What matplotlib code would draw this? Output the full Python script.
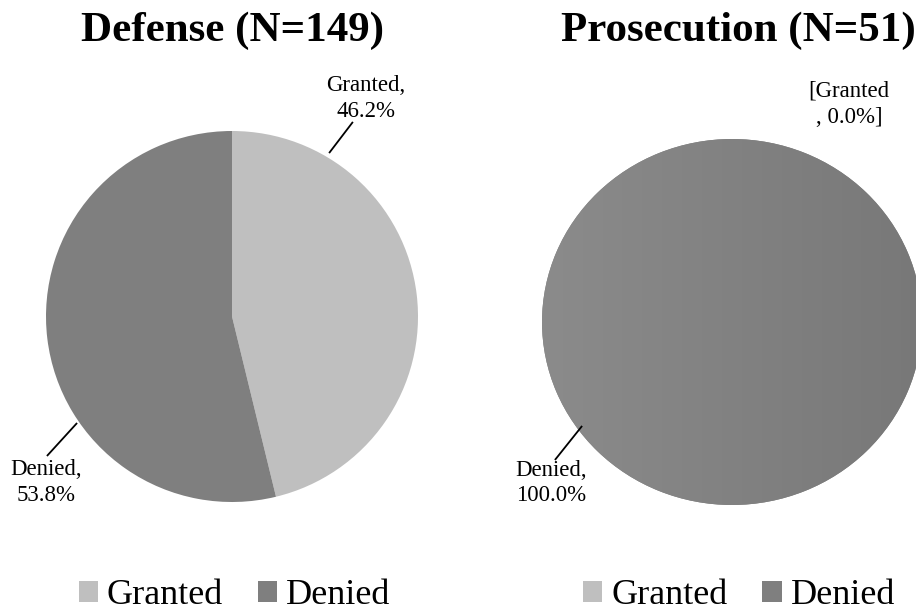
import matplotlib
matplotlib.use("Agg")
import matplotlib.pyplot as plt
import numpy as np
from matplotlib.patches import Patch
from matplotlib.colors import LinearSegmentedColormap

plt.rcParams['font.family'] = ['Liberation Serif', 'DejaVu Serif']

# ---- data ----
categories = ["Granted", "Denied"]
defense_pct = [46.2, 53.8]
prosecution_pct = [0.0, 100.0]
titles = ["Defense (N=149)", "Prosecution (N=51)"]
colors = ["#BFBFBF", "#7F7F7F"]

W, H = 916, 612
fig = plt.figure(figsize=(W / 100, H / 100), dpi=100)


def px_axes(x0, x1, ytop, ybot):
    return fig.add_axes([x0 / W, (H - ybot) / H, (x1 - x0) / W, (ybot - ytop) / H])


def label_text(cat, pct):
    if pct == 0:
        return f"[{cat}\n, {pct:.1f}%]"
    return f"{cat},\n{pct:.1f}%"


def draw_pie(ax, values, label_pos, line_pos, gradient=False):
    wedges, _ = ax.pie(values, colors=colors, startangle=90, counterclock=False,
                       radius=1, center=(0, 0), wedgeprops=dict(linewidth=0))
    ax.set_xlim(-1, 1)
    ax.set_ylim(-1, 1)
    ax.set_aspect('auto')
    ax.axis('off')
    if gradient:
        cmap = LinearSegmentedColormap.from_list("g", ["#8B8B8B", "#787878"])
        grad = np.linspace(0, 1, 256).reshape(1, -1)
        grad = np.repeat(grad, 2, axis=0)
        for w, v in zip(wedges, values):
            if v > 0 and w.get_facecolor()[0] < 0.6:
                im = ax.imshow(grad, extent=(-1, 1, -1, 1), cmap=cmap, aspect='auto',
                               interpolation='bilinear', zorder=w.get_zorder() + 0.1)
                im.set_clip_path(w)
    for cat, v, lp, ln in zip(categories, values, label_pos, line_pos):
        ax.text(lp[0], lp[1], label_text(cat, v), ha='center', va='center',
                fontsize=16.5, linespacing=1.3, color='black', clip_on=False)
        if ln is not None:
            ax.plot([ln[0][0], ln[1][0]], [ln[0][1], ln[1][1]], color='black',
                    lw=1.3, clip_on=False, solid_capstyle='butt')


# left pie
axL = px_axes(46, 418, 131, 502)
draw_pie(axL, defense_pct,
         label_pos=[(0.72, 1.175), (-1.0, -0.895)],
         line_pos=[((0.522, 0.881), (0.65, 1.049)), ((-0.833, -0.574), (-0.995, -0.752))])

# right pie
axR = px_axes(542, 922, 139, 505)
draw_pie(axR, prosecution_pct,
         label_pos=[(0.616, 1.19), (-0.953, -0.88)],
         line_pos=[None, ((-0.789, -0.568), (-0.932, -0.754))],
         gradient=True)

# titles
fig.text(232.5 / W, (H - 41) / H, titles[0], ha='center', va='baseline',
         fontsize=31, fontweight='bold')
fig.text(738 / W, (H - 41) / H, titles[1], ha='center', va='baseline',
         fontsize=31, fontweight='bold')

# legends
handles = [Patch(facecolor=c, edgecolor='none') for c in colors]
for cx in (234.5, 739):
    fig.legend(handles, categories, loc='center', bbox_to_anchor=(cx / W, (H - 596) / H),
               ncol=2, frameon=False, fontsize=26, handlelength=0.53, handleheight=0.53,
               handletextpad=0.25, columnspacing=0.97, borderpad=0, borderaxespad=0)

fig.savefig("out.png", dpi=100)
